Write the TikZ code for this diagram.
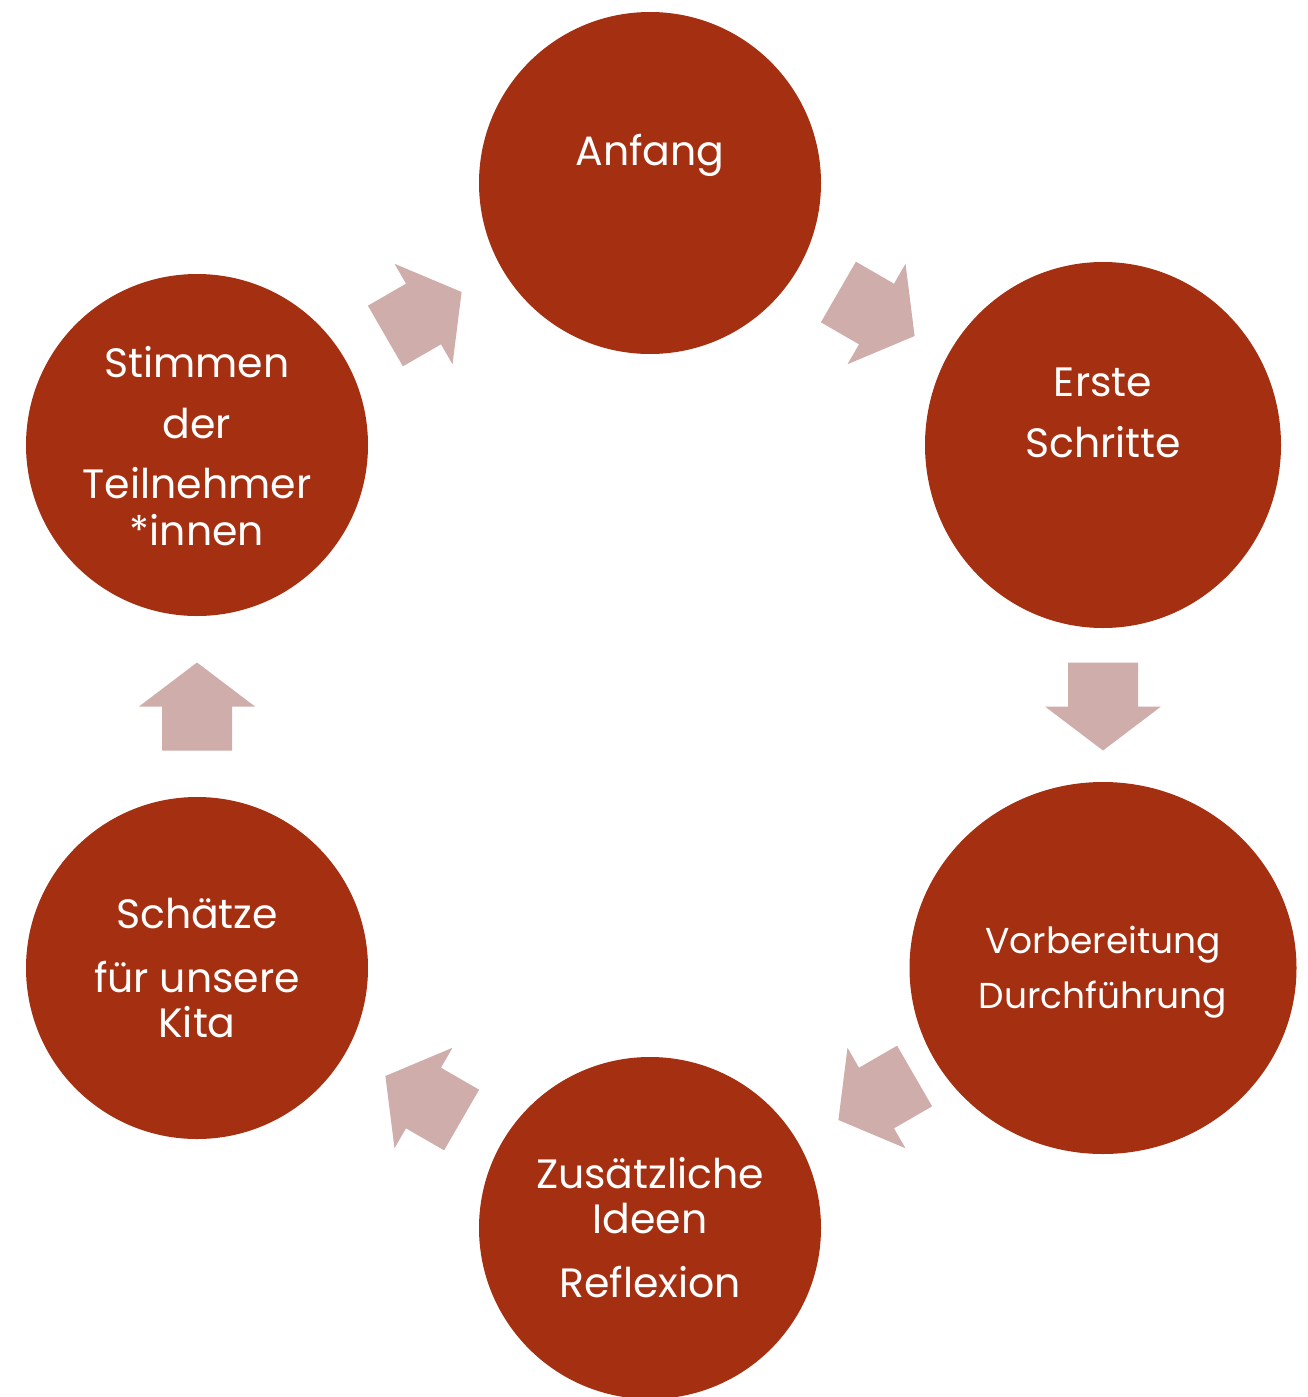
\documentclass[tikz,border=0pt]{standalone}
\usepackage{fontspec}
\setmainfont{Poppins}
\usetikzlibrary{shapes.geometric, calc}
\definecolor{cyclered}{HTML}{A53011}
\definecolor{cyclepink}{HTML}{CFADAA}

\begin{document}
\begin{tikzpicture}[x=1pt, y=1pt]
    \tikzstyle{phase}=[ellipse, fill=cyclered, draw=none, inner sep=0pt, minimum width=342pt, minimum height=342pt]
    \tikzstyle{phase text}=[text=white, inner sep=0pt, font=\fontsize{41}{48}\selectfont]
    \tikzstyle{small text}=[phase text, font=\fontsize{36}{42}\selectfont]
    \tikzstyle{step arrow}=[fill=cyclepink, draw=none]

    \useasboundingbox (0,0) rectangle (1307,-1397);

    % the six phases of the cycle
    \node[phase] (A) at (650,-183) {};
    \node[phase, minimum width=356pt, minimum height=366pt] (E) at (1103,-445) {};
    \node[phase, minimum width=387pt, minimum height=372pt] (V) at (1103,-968) {};
    \node[phase] (Z) at (650,-1228) {};
    \node[phase] (S) at (197,-968) {};
    \node[phase] (T) at (197,-445) {};

    % block arrows halfway between two phases
    \foreach \a/\b/\ang in {A/E/-30, E/V/-90, V/Z/-150, Z/S/150, S/T/90, T/A/30}
    {
        \begin{scope}[shift={($(\a)!0.5!(\b)$)}, rotate=\ang]
            \fill[step arrow] (-44,-35) -- (0,-35) -- (0,-58) -- (44,0) -- (0,58) -- (0,35) -- (-44,35) -- cycle;
        \end{scope}
    }

    % labels, one node per line, set on their baselines
    \foreach \name/\x/\y/\txt in {A1/650/165/Anfang,
                                  E1/1103/396/Erste, E2/1103/457/Schritte,
                                  Z1/650/1188/Zusätzliche, Z2/650/1233/Ideen, Z3/650/1297/Reflexion,
                                  S1/197/928/Schätze, S2/197/992/für unsere, S3/197/1037/Kita,
                                  T1/197/377/Stimmen, T2/197/438/der, T3/197/498/Teilnehmer, T4/197/545/*innen}
        \node[phase text, anchor=base] (L-\name) at (\x,-\y) {\txt};

    \node[small text, anchor=base] (L-V1) at (1103,-953) {Vorbereitung};
    \node[small text, anchor=base] (L-V2) at (1103,-1008) {Durchführung};
\end{tikzpicture}
\end{document}
